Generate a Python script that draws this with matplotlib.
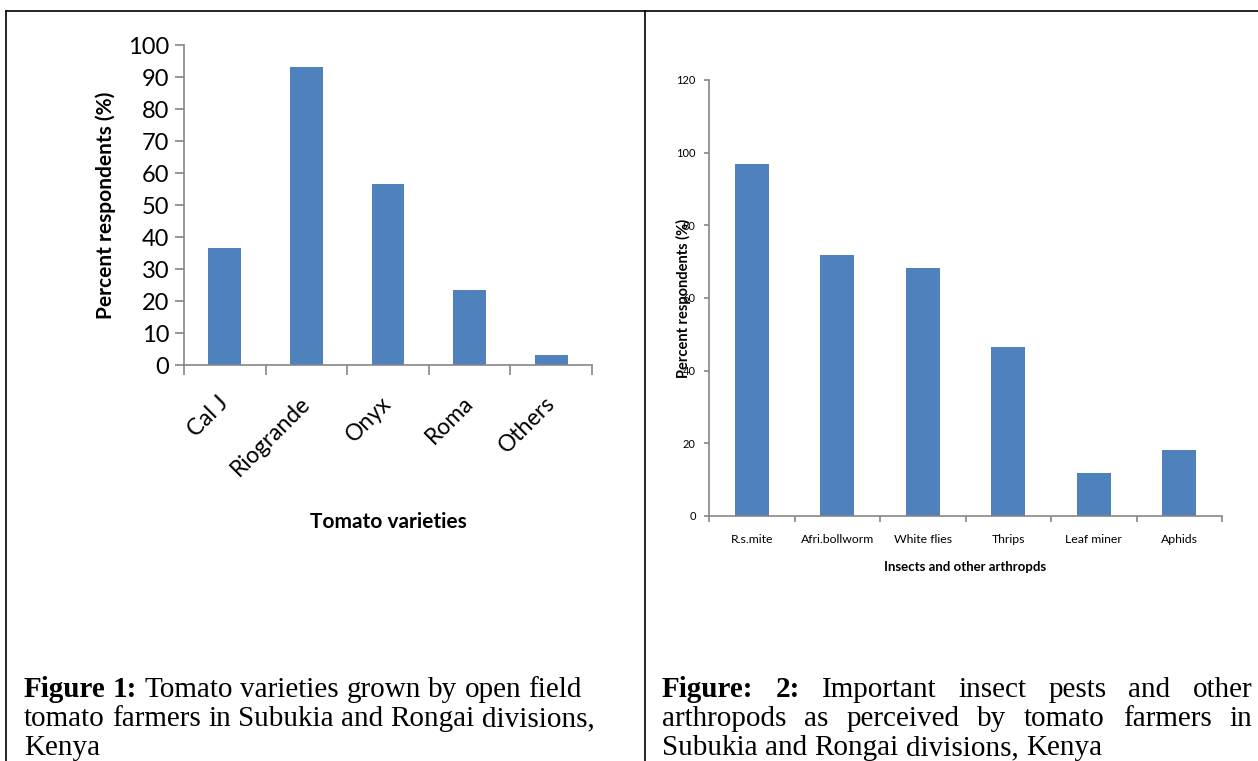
import matplotlib
matplotlib.use('Agg')
import matplotlib.pyplot as plt
from matplotlib.lines import Line2D

# ---------------- data ----------------
varieties = ['Cal J', 'Riogrande', 'Onyx', 'Roma', 'Others']
variety_pct = [36.5, 93.0, 56.5, 23.5, 3.1]

pests = ['R.s.mite', 'Afri.bollworm', 'White flies', 'Thrips', 'Leaf miner', 'Aphids']
pest_pct = [96.8, 71.7, 68.2, 46.5, 11.7, 18.3]

caption1 = [
    [('Figure 1:', 'bold'), ('Tomato varieties grown by open field', 'normal')],
    [('tomato farmers in Subukia and Rongai divisions,', 'normal')],
    [('Kenya', 'normal')],
]
caption2 = [
    [('Figure: 2:', 'bold'), ('Important insect pests and other', 'normal')],
    [('arthropods as perceived by tomato farmers in', 'normal')],
    [('Subukia and Rongai divisions, Kenya', 'normal')],
]

BAR = '#4F81BD'
AXC = '#868686'
W, H = 1258, 761

fig = plt.figure(figsize=(W / 100, H / 100), dpi=100)


def rect(l, t, r, b):
    return [l / W, 1 - b / H, (r - l) / W, (b - t) / H]


def style_axes(ax, n, fs, tlen_x, tlen_y):
    for s in ['top', 'right']:
        ax.spines[s].set_visible(False)
    for s in ['left', 'bottom']:
        ax.spines[s].set_color(AXC)
        ax.spines[s].set_linewidth(1.2)
    ax.set_xlim(-0.5, n - 0.5)
    ax.set_xticks([i - 0.5 for i in range(n + 1)])
    ax.set_xticklabels([])
    ax.tick_params(axis='x', which='major', length=tlen_x, color=AXC, width=1.2)
    ax.tick_params(axis='y', which='major', length=tlen_y, color=AXC, width=1.2,
                   labelsize=fs)
    ax.tick_params(axis='x', which='minor', length=0)


# ---------------- chart 1 ----------------
ax1 = fig.add_axes(rect(184, 45, 592, 365))
x1 = list(range(len(varieties)))
ax1.bar(x1, variety_pct, width=0.4, color=BAR)
ax1.set_ylim(0, 100)
ax1.set_yticks(range(0, 101, 10))
style_axes(ax1, len(varieties), 17, 7.5, 6.5)
ax1.set_xticks(x1, minor=True)
ax1.set_xticklabels(varieties, minor=True, rotation=45, ha='right', va='center',
                    rotation_mode='anchor', fontsize=16.5, family='Lato')
ax1.tick_params(axis='x', which='minor', pad=25)
ax1.tick_params(axis='y', pad=4)
for lbl in ax1.get_yticklabels():
    lbl.set_family('Lato')
ax1.set_ylabel('Percent respondents (%)', fontsize=15, fontweight='bold', family='Lato')
ax1.yaxis.set_label_coords(-0.167, 0.5)
ax1.set_xlabel('Tomato varieties', fontsize=15, fontweight='bold', family='Lato')
ax1.xaxis.set_label_coords(0.5, -0.46)

# ---------------- chart 2 ----------------
ax2 = fig.add_axes(rect(709, 80, 1222, 516))
x2 = list(range(len(pests)))
ax2.bar(x2, pest_pct, width=0.4, color=BAR)
ax2.set_ylim(0, 120)
ax2.set_yticks(range(0, 121, 20))
style_axes(ax2, len(pests), 8, 4, 3.5)
ax2.set_xticks(x2, minor=True)
ax2.set_xticklabels(pests, minor=True, fontsize=8.8, family='Lato')
ax2.tick_params(axis='x', which='minor', pad=13)
ax2.tick_params(axis='y', pad=6)
for lbl in ax2.get_yticklabels():
    lbl.set_family('Lato')
ax2.set_ylabel('Percent respondents (%)', fontsize=10.5, fontweight='bold', family='Lato')
ax2.yaxis.set_label_coords(-0.036, 0.5)
ax2.set_xlabel('Insects and other arthropds', fontsize=9.5, fontweight='bold', family='Lato')
ax2.xaxis.set_label_coords(0.5, -0.103)

# ---------------- table borders ----------------
for xs, ys in [((6, W), (11, 11)), ((6, 6), (11, H)), ((645, 645), (11, H))]:
    fig.add_artist(Line2D([v / W for v in xs], [1 - v / H for v in ys],
                          color='black', lw=1.2, transform=fig.transFigure))

# ---------------- captions ----------------
renderer = fig.canvas.get_renderer()
CFS = 21
CFAM = 'Liberation Serif'


def width_of(s, weight):
    t = fig.text(0, 0, s, fontsize=CFS, family=CFAM, fontweight=weight)
    w = t.get_window_extent(renderer).width
    t.remove()
    return w


space_w = width_of('x x', 'normal') - width_of('xx', 'normal')


def draw_line(runs, x0, baseline, x1=None):
    words = []
    for text, weight in runs:
        for wd in text.split(' '):
            words.append((wd, weight))
    widths = [width_of(wd, wt) for wd, wt in words]
    if x1 is not None and len(words) > 1:
        gap = (x1 - x0 - sum(widths)) / (len(words) - 1)
    else:
        gap = space_w
    x = x0
    for (wd, wt), w in zip(words, widths):
        fig.text(x / W, 1 - baseline / H, wd, fontsize=CFS, family=CFAM,
                 fontweight=wt, va='baseline', ha='left')
        x += w + gap


baselines = [697, 726, 755]
for runs, b in zip(caption1, baselines):
    draw_line(runs, 24, b)
for i, (runs, b) in enumerate(zip(caption2, baselines)):
    draw_line(runs, 662, b, 1252 if i < 2 else None)

fig.savefig('out.png', dpi=100)
